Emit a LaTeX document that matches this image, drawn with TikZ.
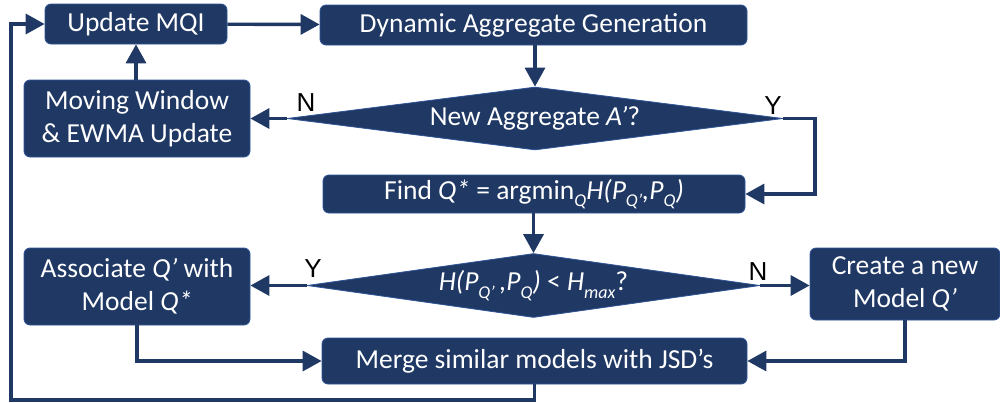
\documentclass[tikz,border=0pt]{standalone}
\usepackage{fontspec}
\setmainfont{Carlito}
\newfontfamily\labfont{Liberation Sans}
\usetikzlibrary{arrows.meta,shapes.geometric}
\definecolor{navy}{HTML}{203864}
\definecolor{edge}{HTML}{2F5597}
\newcommand\mysub[1]{\raisebox{-0.28em}{\fontsize{18}{18}\selectfont\textit{#1}}}
\tikzset{
  box/.style={draw=edge, line width=0.8pt, fill=navy, rounded corners=6pt, text=white,
    inner sep=0pt, align=center, font=\fontsize{27.5}{33}\selectfont},
  dia/.style={shape=diamond, draw=edge, line width=0.8pt, fill=navy, text=white,
    inner sep=0pt, font=\fontsize{27.5}{33}\selectfont},
  arr/.style={draw=navy, line width=3.4pt, -{Triangle[length=19pt,width=20pt]}},
  lab/.style={font=\labfont\fontsize{26}{26}\selectfont, text=black, inner sep=0pt}
}
\begin{document}
\begin{tikzpicture}[x=1pt,y=-1pt]
\useasboundingbox[fill=white] (0,0) rectangle (1000,402);
\node[box, minimum width=182pt, minimum height=40pt] (mqi) at (136,24) {Update MQI};
\node[box, minimum width=427pt, minimum height=40pt] (dyn) at (533.5,25) {Dynamic Aggregate Generation};
\node[box, minimum width=226pt, minimum height=77pt] (mw) at (137,118.5) {Moving Window\\\& EWMA Update};
\node[dia, aspect=7.9, minimum width=496pt, minimum height=63pt] (d1) at (535,118.5) {New Aggregate \textit{A’}?};
\node[box, minimum width=422pt, minimum height=38pt] (find) at (534,194)
  {Find \textit{Q*} = argmin\mysub{Q}\textit{H(P\mysub{Q’},P\mysub{Q})}};
\node[dia, aspect=7.1, minimum width=453pt, minimum height=64pt] (d2) at (533.5,285.5)
  {\textit{H(P\mysub{Q’}\,,P\mysub{Q})} < \textit{H\mysub{max}}?};
\node[box, minimum width=226pt, minimum height=77pt] (assoc) at (137,286.5) {Associate \textit{Q’} with\\Model \textit{Q*}};
\node[box, minimum width=190pt, minimum height=72pt] (create) at (905,284) {Create a new\\Model \textit{Q’}};
\node[box, minimum width=425pt, minimum height=46pt] (merge) at (534.5,361) {Merge similar models with JSD’s};
\coordinate (lb) at (11,400);
\coordinate (yr) at (815,118.5);
\draw[arr] (mqi) -- (dyn);
\draw[arr] (dyn.south -| d1.north) -- (d1.north);
\draw[arr] (d1.west) -- (mw.east |- d1.west);
\draw[arr] (mw.north -| mqi.south) -- (mqi.south);
\draw[arr] (d1.east) -- (yr) |- (find.east);
\draw[arr] (find.south -| d2.north) -- (d2.north);
\draw[arr] (d2.west) -- (assoc.east |- d2.west);
\draw[arr] (d2.east) -- (create.west |- d2.east);
\draw[arr] (assoc.south) |- (merge.west);
\draw[arr] (create.south) |- (merge.east);
\draw[arr] (merge.south) -- (merge.south |- lb) -- (lb) |- (mqi.west);
\node[lab] (n1) at (306,103) {N};
\node[lab] (y1) at (773,106) {Y};
\node[lab] (y2) at (313,269) {Y};
\node[lab] (n2) at (758,272) {N};
\end{tikzpicture}
\end{document}
